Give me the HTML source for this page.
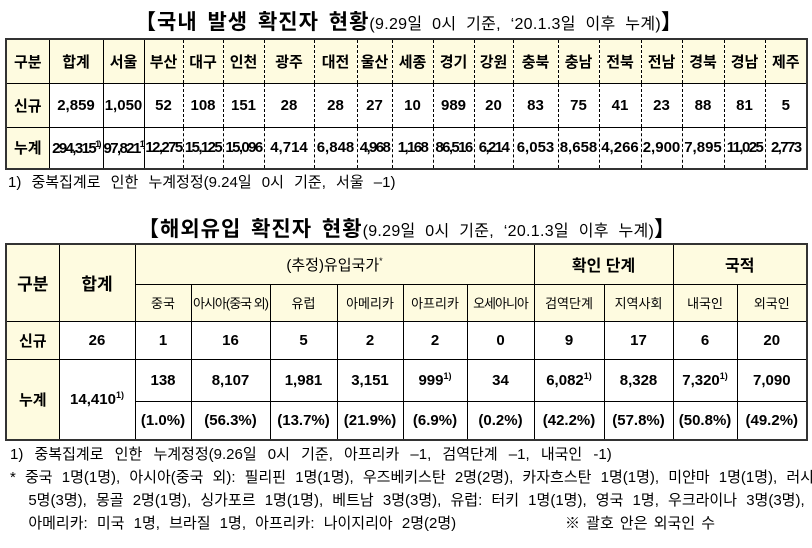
<!DOCTYPE html>
<html><head><meta charset="utf-8">
<style>
body{margin:0;width:812px;height:548px;background:#fff;position:relative;overflow:hidden;font-family:"Liberation Sans","Noto Sans CJK KR","NanumGothic",sans-serif;color:#000}
.abs{position:absolute}
.title{font-size:21px;font-weight:bold;white-space:nowrap;letter-spacing:1px;word-spacing:3px}
.title span{font-size:16px;font-weight:normal;letter-spacing:0.3px;word-spacing:5px}
table{border-collapse:collapse;table-layout:fixed;position:absolute;border:2.5px solid #333}
td{text-align:center;font-weight:bold;font-size:15px;padding:0;white-space:nowrap;overflow:hidden;border:1px solid #000}
.h td,td.h{background:#fefbe0}
#t1 td.d{border-left:1px dashed #000;border-right:1px dashed #000}
#t1 td.n{font-size:15px;letter-spacing:-1.6px}
sup{font-size:9px}
#t2 td.s{font-size:13px;font-weight:normal}
.note{font-size:15px;white-space:nowrap;word-spacing:5px}
</style></head><body>
<div class="abs title" style="left:135px;top:6px">【국내 발생 확진자 현황<span>(9.29일 0시 기준, ‘20.1.3일 이후 누계)</span>】</div>
<table id="t1" style="left:5px;top:38px;width:801px">
<colgroup><col style="width:43px"><col style="width:54px"><col style="width:41px"><col style="width:39px"><col style="width:40px"><col style="width:41px"><col style="width:50px"><col style="width:43px"><col style="width:35px"><col style="width:41px"><col style="width:41px"><col style="width:39px"><col style="width:45px"><col style="width:41px"><col style="width:42px"><col style="width:41px"><col style="width:42px"><col style="width:41px"><col style="width:42px"></colgroup>
<tr class="h" style="height:44px"><td>구분</td><td>합계</td><td>서울</td><td class="d">부산</td><td class="d">대구</td><td class="d">인천</td><td class="d">광주</td><td class="d">대전</td><td class="d">울산</td><td class="d">세종</td><td class="d">경기</td><td class="d">강원</td><td class="d">충북</td><td class="d">충남</td><td class="d">전북</td><td class="d">전남</td><td class="d">경북</td><td class="d">경남</td><td class="d">제주</td></tr>
<tr style="height:44px"><td class="h">신규</td><td>2,859</td><td>1,050</td><td class="d">52</td><td class="d">108</td><td class="d">151</td><td class="d">28</td><td class="d">28</td><td class="d">27</td><td class="d">10</td><td class="d">989</td><td class="d">20</td><td class="d">83</td><td class="d">75</td><td class="d">41</td><td class="d">23</td><td class="d">88</td><td class="d">81</td><td class="d">5</td></tr>
<tr style="height:42px"><td class="h">누계</td><td class="n">294,315<sup>1)</sup></td><td class="n">97,821<sup>1)</sup></td><td class="d n">12,275</td><td class="d n">15,125</td><td class="d n">15,096</td><td class="d">4,714</td><td class="d">6,848</td><td class="d n">4,968</td><td class="d n">1,168</td><td class="d n">86,516</td><td class="d n">6,214</td><td class="d">6,053</td><td class="d">8,658</td><td class="d">4,266</td><td class="d">2,900</td><td class="d">7,895</td><td class="d n">11,025</td><td class="d n">2,773</td></tr>
</table>
<div class="abs note" style="left:8px;top:171px;word-spacing:6px">1) 중복집계로 인한 누계정정(9.24일 0시 기준, 서울 –1)</div>
<div class="abs title" style="left:138px;top:213px">【해외유입 확진자 현황<span>(9.29일 0시 기준, ‘20.1.3일 이후 누계)</span>】</div>
<table id="t2" style="left:5px;top:243px;width:801px">
<colgroup><col style="width:53px"><col style="width:76px"><col style="width:56px"><col style="width:79px"><col style="width:67px"><col style="width:66px"><col style="width:64px"><col style="width:67px"><col style="width:70px"><col style="width:69px"><col style="width:64px"><col style="width:70px"></colgroup>
<tr class="h" style="height:40px"><td rowspan="2" style="font-size:17px">구분</td><td rowspan="2" style="font-size:17px">합계</td><td colspan="6" style="font-weight:normal;font-size:15px">(추정)유입국가<sup>*</sup></td><td colspan="2" style="font-size:16px">확인 단계</td><td colspan="2" style="font-size:16px">국적</td></tr>
<tr class="h" style="height:37px"><td class="s">중국</td><td class="s" style="letter-spacing:-1px">아시아(중국 외)</td><td class="s">유럽</td><td class="s">아메리카</td><td class="s">아프리카</td><td class="s" style="letter-spacing:-1px">오세아니아</td><td class="s">검역단계</td><td class="s">지역사회</td><td class="s">내국인</td><td class="s">외국인</td></tr>
<tr style="height:38px"><td class="h">신규</td><td>26</td><td>1</td><td>16</td><td>5</td><td>2</td><td>2</td><td>0</td><td>9</td><td>17</td><td>6</td><td>20</td></tr>
<tr style="height:42px"><td class="h" rowspan="2">누계</td><td rowspan="2">14,410<sup>1)</sup></td><td>138</td><td>8,107</td><td>1,981</td><td>3,151</td><td>999<sup>1)</sup></td><td>34</td><td>6,082<sup>1)</sup></td><td>8,328</td><td>7,320<sup>1)</sup></td><td>7,090</td></tr>
<tr style="height:39px"><td>(1.0%)</td><td>(56.3%)</td><td>(13.7%)</td><td>(21.9%)</td><td>(6.9%)</td><td>(0.2%)</td><td>(42.2%)</td><td>(57.8%)</td><td>(50.8%)</td><td>(49.2%)</td></tr>
</table>
<div class="abs note" style="left:10px;top:443px;line-height:23px"><span style="word-spacing:7px">1) 중복집계로 인한 누계정정(9.26일 0시 기준, 아프리카 –1, 검역단계 –1, 내국인 -1)</span><br>* 중국 1명(1명), 아시아(중국 외): 필리핀 1명(1명), 우즈베키스탄 2명(2명), 카자흐스탄 1명(1명), 미얀마 1명(1명), 러시아<br>&nbsp;&nbsp;5명(3명), 몽골 2명(1명), 싱가포르 1명(1명), 베트남 3명(3명), 유럽: 터키 1명(1명), 영국 1명, 우크라이나 3명(3명),<br>&nbsp;&nbsp;아메리카: 미국 1명, 브라질 1명, 아프리카: 나이지리아 2명(2명)<span style="position:absolute;left:555px;word-spacing:2px">※ 괄호 안은 외국인 수</span></div>
</body></html>
